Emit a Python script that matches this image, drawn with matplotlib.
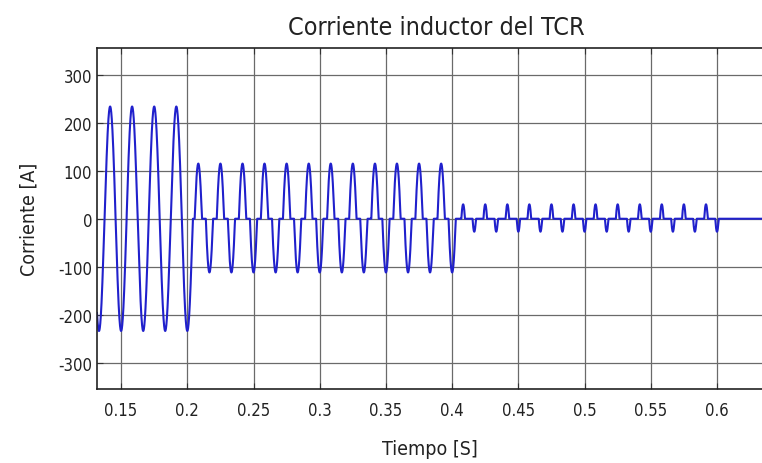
import numpy as np
import matplotlib
matplotlib.use("Agg")
import matplotlib.pyplot as plt

plt.rcParams["font.family"] = ["DejaVu Sans"]
plt.rcParams["font.stretch"] = "condensed"
plt.rcParams["axes.unicode_minus"] = False

# half-cycle peak times [s] and peak currents [A]
full_times = [0.1250, 0.1333, 0.1417, 0.1500, 0.1583, 0.1667, 0.1750, 0.1833, 0.1917, 0.2000]
full_peaks = [234, -234, 234, -234, 234, -234, 234, -234, 234, -234]

mid_times = [0.2083, 0.2167, 0.2250, 0.2333, 0.2417, 0.2500, 0.2583, 0.2667,
             0.2750, 0.2833, 0.2917, 0.3000, 0.3083, 0.3167, 0.3250, 0.3333,
             0.3417, 0.3500, 0.3583, 0.3667, 0.3750, 0.3833, 0.3917, 0.4000]
mid_peaks = [115, -112] * 12

low_times = [0.4083, 0.4167, 0.4250, 0.4333, 0.4417, 0.4500, 0.4583, 0.4667,
             0.4750, 0.4833, 0.4917, 0.5000, 0.5083, 0.5167, 0.5250, 0.5333,
             0.5417, 0.5500, 0.5583, 0.5667, 0.5750, 0.5833, 0.5917, 0.6000]
low_peaks = [30, -27] * 12

FREQ = 60.0   # Hz
I_FULL = 234  # full conduction amplitude [A]
T_END = 0.64

peak_times = np.array(full_times + mid_times + low_times)
peak_vals = np.array(full_peaks + mid_peaks + low_peaks, dtype=float)

# TCR current: each half-cycle conducts around its peak (cosine cap)
t = np.linspace(0.12, T_END, 20000)
i = np.zeros_like(t)
w = 2 * np.pi * FREQ
for tk, ak in zip(peak_times, peak_vals):
    beta = np.arccos(np.clip(1 - abs(ak) / I_FULL, -1, 1))
    ph = w * (t - tk)
    on = np.abs(ph) < beta
    i[on] = np.sign(ak) * I_FULL * (np.cos(ph[on]) - np.cos(beta))

fig = plt.figure(figsize=(7.62, 4.64), dpi=100)
ax = fig.add_axes([97 / 762, 1 - 390 / 464, 1 - 97 / 762, (390 - 49) / 464])

ax.plot(t, i, color="#2020cc", lw=1.5)

ax.set_xlim(0.1318, 0.634)
ax.set_ylim(-355, 356)
ax.set_xticks([0.15, 0.2, 0.25, 0.3, 0.35, 0.4, 0.45, 0.5, 0.55, 0.6])
ax.set_xticklabels(["0.15", "0.2", "0.25", "0.3", "0.35", "0.4", "0.45", "0.5", "0.55", "0.6"])
ax.set_yticks([-300, -200, -100, 0, 100, 200, 300])
ax.grid(True, color="#6a6a6a", lw=0.9)
ax.tick_params(direction="in", top=True, length=4, labelsize=12, colors="#333333",
               labelcolor="#222222")
ax.tick_params(axis="x", pad=9)
for s in ["left", "bottom", "top"]:
    ax.spines[s].set_linewidth(1.2)
    ax.spines[s].set_color("#222222")
ax.spines["right"].set_visible(False)

ax.set_title("Corriente inductor del TCR", fontsize=18, color="#222222", pad=10, x=0.51)
ax.set_xlabel("Tiempo [S]", fontsize=14, color="#222222", labelpad=14)
ax.set_ylabel("Corriente [A]", fontsize=14, color="#222222", labelpad=14)

fig.savefig("out.png", dpi=100)
